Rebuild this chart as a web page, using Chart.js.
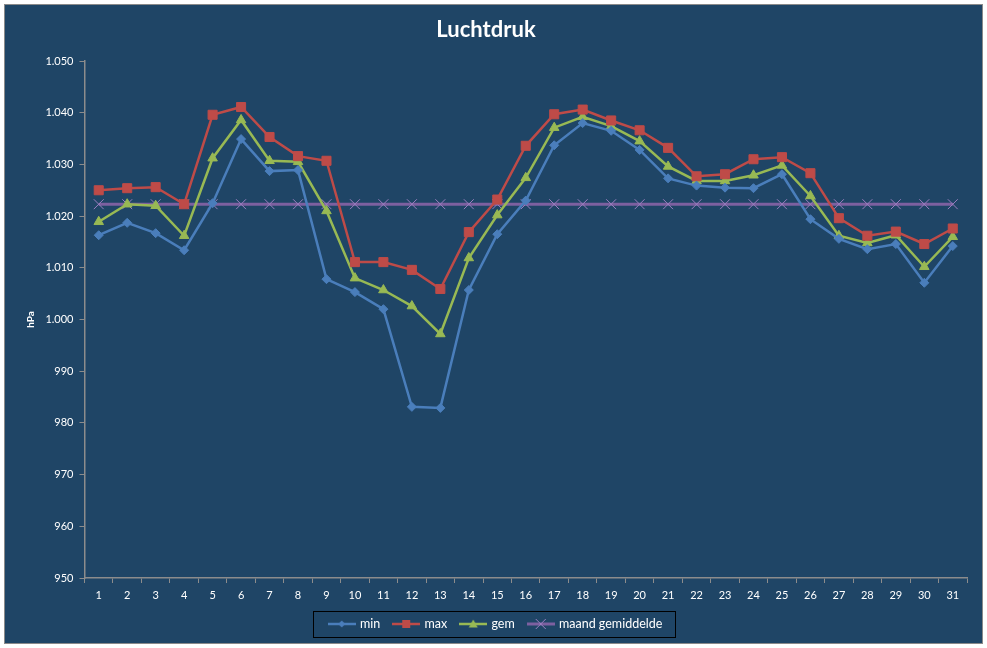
<!DOCTYPE html>
<html>
<head>
<meta charset="utf-8">
<script src="https://cdn.jsdelivr.net/npm/chart.js@4/dist/chart.umd.min.js"></script>
<style>
    html, body { margin: 0; padding: 0; background: #ffffff; }
    #wrap {
        position: absolute; left: 4px; top: 4px;
        width: 977px; height: 638px;
        border: 1px solid #8a8a8a;
        background: #1f4566;
    }
    canvas { display: block; }
</style>
</head>
<body>
<div id="wrap"><canvas id="chart" width="977" height="638"></canvas></div>
<script>
// dagen van de maand
const days = ['1','2','3','4','5','6','7','8','9','10','11','12','13','14','15','16',
              '17','18','19','20','21','22','23','24','25','26','27','28','29','30','31'];

const minVals = [1016.3, 1018.7, 1016.7, 1013.4, 1022.5, 1034.9, 1028.7, 1028.9, 1007.8, 1005.3,
                 1002.0, 983.1, 982.9, 1005.7, 1016.5, 1023.0, 1033.7, 1038.0, 1036.5, 1032.8,
                 1027.3, 1025.9, 1025.5, 1025.4, 1028.1, 1019.4, 1015.6, 1013.6, 1014.6, 1007.1, 1014.2];

const maxVals = [1025.0, 1025.4, 1025.6, 1022.3, 1039.6, 1041.1, 1035.3, 1031.6, 1030.7, 1011.1,
                 1011.1, 1009.6, 1005.9, 1016.9, 1023.2, 1033.6, 1039.7, 1040.6, 1038.5, 1036.6,
                 1033.2, 1027.7, 1028.1, 1031.0, 1031.4, 1028.3, 1019.6, 1016.2, 1017.0, 1014.6, 1017.6];

const gemVals = [1018.9, 1022.3, 1022.0, 1016.2, 1031.2, 1038.6, 1030.7, 1030.5, 1021.0, 1008.0,
                 1005.7, 1002.6, 997.2, 1011.9, 1020.2, 1027.4, 1037.1, 1039.2, 1037.4, 1034.5,
                 1029.6, 1026.8, 1026.8, 1027.9, 1029.8, 1023.9, 1016.2, 1014.8, 1016.3, 1010.2, 1016.0];

const maandGem = [1022.3, 1022.3, 1022.3, 1022.3, 1022.3, 1022.3, 1022.3, 1022.3, 1022.3, 1022.3,
                  1022.3, 1022.3, 1022.3, 1022.3, 1022.3, 1022.3, 1022.3, 1022.3, 1022.3, 1022.3,
                  1022.3, 1022.3, 1022.3, 1022.3, 1022.3, 1022.3, 1022.3, 1022.3, 1022.3, 1022.3, 1022.3];

const FONT = "Lato, 'Open Sans', sans-serif";
const AXIS = '#8c8c8c';

// kleine icoontjes voor de legenda: lijn met marker
function makeIcon(color, style, r) {
    const c = document.createElement('canvas');
    c.width = 28; c.height = 12;
    const g = c.getContext('2d');
    g.strokeStyle = color; g.fillStyle = color;
    g.lineWidth = style === 'crossRot' ? 3 : 2.5;
    g.beginPath(); g.moveTo(0, 6); g.lineTo(28, 6); g.stroke();
    g.beginPath();
    if (style === 'rectRot') {
        g.moveTo(14, 6 - r); g.lineTo(14 + r, 6); g.lineTo(14, 6 + r); g.lineTo(14 - r, 6); g.closePath(); g.fill();
    } else if (style === 'rect') {
        g.rect(14 - r, 6 - r, 2 * r, 2 * r); g.fill();
    } else if (style === 'triangle') {
        g.moveTo(14, 6 - r); g.lineTo(14 + r, 6 + r * 0.8); g.lineTo(14 - r, 6 + r * 0.8); g.closePath(); g.fill();
    } else {
        g.lineWidth = 1;
        g.strokeStyle = '#9b7fc0';
        g.moveTo(14 - r, 6 - r); g.lineTo(14 + r, 6 + r);
        g.moveTo(14 + r, 6 - r); g.lineTo(14 - r, 6 + r); g.stroke();
    }
    return c;
}

const fmtNl = (v) => v >= 1000 ? Math.floor(v / 1000) + '.' + String(v % 1000).padStart(3, '0') : String(v);

// legenda iets naar rechts (midden van de hele grafiek) en een kader eromheen
const legendBorder = {
    id: 'legendBorder',
    afterLayout(chart) {
        const lg = chart.legend;
        if (!lg) return;
        lg.left += 10;
        lg.right += 10;
    },
    afterDraw(chart) {
        const lg = chart.legend;
        if (!lg || !lg.legendHitBoxes.length) return;
        const boxes = lg.legendHitBoxes;
        const first = boxes[0], last = boxes[boxes.length - 1];
        const x1 = first.left - 17, x2 = last.left + last.width + 12;
        const cy = first.top + first.height / 2;
        const ctx = chart.ctx;
        ctx.save();
        ctx.strokeStyle = '#000000';
        ctx.lineWidth = 1;
        ctx.strokeRect(Math.round(x1) + 0.5, Math.round(cy - 13) + 0.5, Math.round(x2 - x1), 26);
        ctx.restore();
    }
};

Chart.defaults.color = '#ffffff';
Chart.defaults.font.family = FONT;
Chart.defaults.font.size = 11;

const ctx = document.getElementById('chart').getContext('2d');
new Chart(ctx, {
    type: 'line',
    data: {
        labels: days,
        datasets: [
            { label: 'min', data: minVals, borderColor: '#4a7ebb', backgroundColor: '#4a7ebb',
              borderWidth: 2.5, pointStyle: 'rectRot', pointRadius: 4.5, pointBorderWidth: 1,
              icon: makeIcon('#4a7ebb', 'rectRot', 3.5) },
            { label: 'max', data: maxVals, borderColor: '#be4b48', backgroundColor: '#be4b48',
              borderWidth: 2.5, pointStyle: 'rect', pointRadius: 6.4, pointBorderWidth: 1,
              icon: makeIcon('#be4b48', 'rect', 4) },
            { label: 'gem', data: gemVals, borderColor: '#98b954', backgroundColor: '#98b954',
              borderWidth: 2.5, pointStyle: 'triangle', pointRadius: 5.5, pointBorderWidth: 1,
              icon: makeIcon('#98b954', 'triangle', 4.5) },
            { label: 'maand gemiddelde', data: maandGem, borderColor: '#7d60a0', backgroundColor: '#7d60a0',
              borderWidth: 3, pointStyle: 'crossRot', pointRadius: 7, pointBorderWidth: 1,
              pointBorderColor: '#9b7fc0', icon: makeIcon('#7d60a0', 'crossRot', 5) }
        ]
    },
    options: {
        responsive: false,
        animation: false,
        layout: { padding: { left: 0, right: 15, top: 0, bottom: 2.75 } },
        elements: { line: { tension: 0 } },
        plugins: {
            title: {
                display: true,
                text: 'Luchtdruk',
                color: '#ffffff',
                font: { size: 22, weight: 'bold', family: FONT },
                padding: { top: 12, bottom: 17.6 }
            },
            legend: {
                position: 'bottom',
                labels: {
                    usePointStyle: true,
                    pointStyleWidth: 24,
                    padding: 14,
                    color: '#ffffff',
                    font: { size: 12.5, family: FONT },
                    generateLabels(chart) {
                        return chart.data.datasets.map((ds, i) => ({
                            text: ds.label,
                            pointStyle: ds.icon,
                            fillStyle: ds.borderColor,
                            strokeStyle: ds.borderColor,
                            lineWidth: 0,
                            fontColor: '#ffffff',
                            datasetIndex: i
                        }));
                    }
                }
            },
            tooltip: { enabled: false }
        },
        scales: {
            x: {
                offset: true,
                grid: { offset: true, drawOnChartArea: false, drawTicks: true, tickLength: 5, color: AXIS },
                border: { color: AXIS, width: 1.5 },
                ticks: { color: '#ffffff', padding: 6, maxRotation: 0, autoSkip: false },
                afterFit(scale) { scale.height = 25.75; }
            },
            y: {
                min: 950,
                max: 1050,
                grid: { drawOnChartArea: false, drawTicks: true, tickLength: 5, color: AXIS },
                border: { color: AXIS, width: 1.5 },
                ticks: { stepSize: 10, color: '#ffffff', padding: 6, callback: (v) => fmtNl(v) },
                title: {
                    display: true, text: 'hPa', color: '#ffffff',
                    font: { size: 10, weight: 'bold', family: FONT },
                    padding: { top: 20 }
                },
                afterFit(scale) { scale.width = 79.5; }
            }
        }
    },
    plugins: [legendBorder]
});
</script>
</body>
</html>
